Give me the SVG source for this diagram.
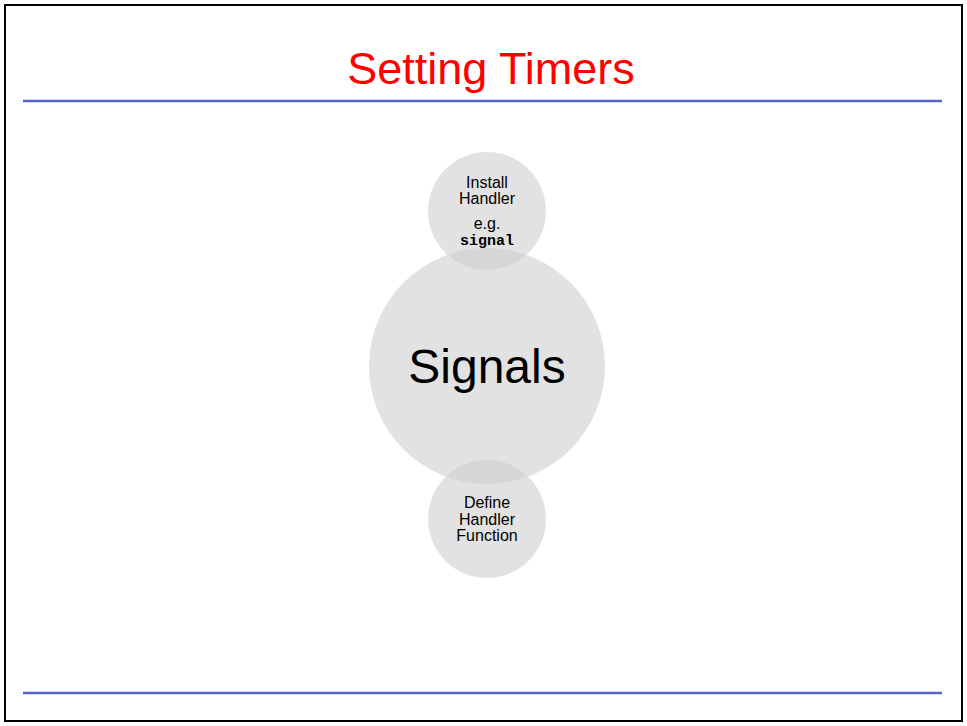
<svg xmlns="http://www.w3.org/2000/svg" width="967" height="726" viewBox="0 0 967 726">
<style>
.frame{fill:#fff;stroke:#000;stroke-width:2}
.rule{stroke:#5a64d0;stroke-width:2.5}
.title{font-family:"Comic Sans MS","Liberation Sans",sans-serif;font-size:45px;fill:#ff0000;text-anchor:middle}
.bub{fill:#cdcdcd;fill-opacity:0.59}
.t{font-family:"Comic Sans MS","Liberation Sans",sans-serif;font-size:16px;fill:#000;text-anchor:middle}
.big{font-family:"Comic Sans MS","Liberation Sans",sans-serif;font-size:48px;fill:#000;text-anchor:middle}
.code{font-family:"Liberation Mono",monospace;font-size:15px;font-weight:bold;fill:#000;text-anchor:middle}
</style>
<rect class="frame" x="5" y="5" width="957" height="716"/>
<line class="rule" x1="23" y1="101" x2="942" y2="101"/>
<line class="rule" x1="23" y1="693" x2="942" y2="693"/>
<text class="title" x="491" y="84">Setting Timers</text>
<g id="connectors"></g>
<g id="signals">
<circle class="bub" cx="487" cy="366" r="118"/>
<text class="big" x="487" y="383">Signals</text>
</g>
<g id="install">
<circle class="bub" cx="487" cy="211" r="59"/>
<text class="t" x="487" y="188">Install</text>
<text class="t" x="487" y="204">Handler</text>
<text class="t" x="487" y="229">e.g.</text>
<text class="code" x="487" y="245">signal</text>
</g>
<g id="define">
<circle class="bub" cx="487" cy="519" r="59"/>
<text class="t" x="487" y="508">Define</text>
<text class="t" x="487" y="525">Handler</text>
<text class="t" x="487" y="541">Function</text>
</g>
</svg>
